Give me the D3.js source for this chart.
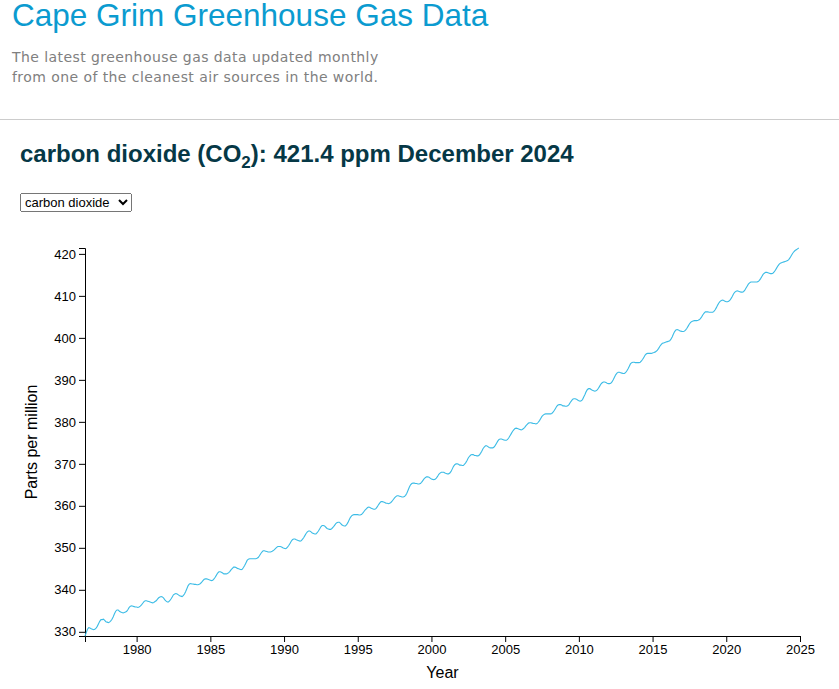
<!DOCTYPE html>
<html>
<head>
<meta charset="utf-8">
<script src="https://cdn.jsdelivr.net/npm/d3@7"></script>
<style>
  body { margin: 0; background: #fff; font-family: "Liberation Sans", Arial, sans-serif; overflow: hidden; }
  #page { position: relative; width: 839px; height: 689px; }
  h1 { position: absolute; left: 12px; top: 0; margin: 0; font-weight: normal; font-size: 31.5px; line-height: 30px; color: #0b9bd0; white-space: nowrap; }
  .intro { position: absolute; left: 12px; top: 48px; margin: 0; font-family: "DejaVu Sans", Verdana, sans-serif; font-size: 14px; line-height: 19.5px; color: #808080; letter-spacing: 0.43px; }
  hr { position: absolute; left: 0; top: 119px; width: 839px; margin: 0; border: 0; border-top: 1px solid #cccccc; }
  h2 { position: absolute; left: 20px; top: 139.7px; margin: 0; font-size: 24px; line-height: 28px; font-weight: bold; color: #063846; white-space: nowrap; }
  h2 sub { font-size: 17px; line-height: 0; }
  select { position: absolute; left: 20px; top: 193px; width: 112px; height: 19px; font-size: 13px; font-family: "Liberation Sans", Arial, sans-serif; padding: 0; }
  svg { position: absolute; left: 0; top: 0; }
</style>
</head>
<body>
<div id="page">
  <h1>Cape Grim Greenhouse Gas Data</h1>
  <p class="intro">The latest greenhouse gas data updated monthly<br>from one of the cleanest air sources in the world.</p>
  <hr>
  <h2 id="heading"></h2>
  <select id="gas"></select>
  <div id="chart"></div>
</div>
<script>
// gases offered in the drop-down
const gases = ["carbon dioxide", "methane", "nitrous oxide"];

// monthly CO2 (ppm) at Cape Grim, one row per year, series starts July 1976
const startYear = 1976;
const startMonth = 7;
const co2 = [
  329.0, 329.8, 330.6, 331.0, 330.9, 330.7,                                  // 1976 (Jul-Dec)
  330.6, 330.5, 330.6, 330.9, 331.3, 331.9, 332.5, 332.9, 332.9, 333.0, 332.7, 332.4, // 1977
  332.3, 332.2, 332.3, 332.6, 333.0, 333.6, 334.3, 334.9, 335.2, 335.2, 334.9, 334.7, // 1978
  334.6, 334.5, 334.6, 334.7, 334.9, 335.3, 335.8, 336.1, 336.2, 336.1, 336.0, 335.9, // 1979
  335.9, 335.8, 335.9, 336.1, 336.4, 336.8, 337.2, 337.4, 337.4, 337.3, 337.2, 337.1, // 1980
  337.0, 336.9, 337.0, 337.2, 337.4, 337.8, 338.1, 338.3, 338.4, 338.3, 338.0, 337.6, // 1981
  337.3, 337.1, 337.1, 337.4, 337.8, 338.3, 338.8, 339.0, 339.1, 339.0, 338.8, 338.6, // 1982
  338.5, 338.4, 338.6, 339.0, 339.6, 340.3, 341.0, 341.4, 341.5, 341.4, 341.4, 341.3, // 1983
  341.3, 341.2, 341.2, 341.3, 341.5, 341.8, 342.2, 342.5, 342.6, 342.6, 342.5, 342.4, // 1984
  342.3, 342.2, 342.3, 342.6, 343.0, 343.5, 344.0, 344.3, 344.3, 344.2, 344.0, 343.8, // 1985
  343.8, 343.8, 343.9, 344.1, 344.4, 344.8, 345.1, 345.4, 345.4, 345.3, 345.1, 345.0, // 1986
  344.9, 344.8, 344.9, 345.3, 345.8, 346.4, 347.0, 347.3, 347.4, 347.4, 347.4, 347.4, // 1987
  347.4, 347.4, 347.5, 347.7, 348.1, 348.6, 349.0, 349.3, 349.3, 349.2, 349.1, 349.0, // 1988
  349.0, 349.0, 349.1, 349.3, 349.5, 349.8, 350.1, 350.3, 350.3, 350.3, 350.2, 350.0, // 1989
  349.9, 349.8, 349.9, 350.2, 350.6, 351.1, 351.6, 352.0, 352.1, 352.1, 351.9, 351.8, // 1990
  351.7, 351.6, 351.7, 352.0, 352.4, 352.9, 353.4, 353.8, 354.0, 354.0, 353.8, 353.5, // 1991
  353.4, 353.3, 353.3, 353.6, 354.0, 354.5, 355.0, 355.3, 355.3, 355.2, 354.9, 354.6, // 1992
  354.5, 354.4, 354.4, 354.6, 354.9, 355.3, 355.7, 356.0, 356.1, 356.1, 355.8, 355.5, // 1993
  355.3, 355.2, 355.2, 355.5, 356.0, 356.6, 357.2, 357.6, 357.8, 357.9, 357.9, 357.9, // 1994
  357.9, 357.8, 357.8, 357.9, 358.2, 358.6, 359.0, 359.3, 359.6, 359.7, 359.6, 359.4, // 1995
  359.3, 359.2, 359.2, 359.4, 359.8, 360.3, 360.7, 361.0, 361.0, 360.9, 360.8, 360.6, // 1996
  360.6, 360.5, 360.6, 360.8, 361.1, 361.5, 361.9, 362.2, 362.4, 362.4, 362.3, 362.2, // 1997
  362.1, 362.1, 362.2, 362.5, 363.0, 363.7, 364.4, 365.0, 365.3, 365.4, 365.4, 365.3, // 1998
  365.3, 365.2, 365.2, 365.3, 365.6, 366.0, 366.4, 366.7, 366.9, 366.9, 366.8, 366.6, // 1999
  366.4, 366.3, 366.2, 366.3, 366.6, 367.0, 367.5, 367.8, 368.0, 368.0, 368.0, 367.8, // 2000
  367.7, 367.6, 367.6, 367.8, 368.2, 368.8, 369.4, 369.8, 370.0, 370.0, 369.9, 369.7, // 2001
  369.7, 369.6, 369.6, 369.9, 370.3, 370.8, 371.4, 371.8, 372.1, 372.2, 372.2, 372.0, // 2002
  372.0, 371.9, 371.9, 372.1, 372.5, 373.0, 373.6, 374.0, 374.3, 374.3, 374.1, 373.9, // 2003
  373.8, 373.8, 373.8, 374.0, 374.4, 374.9, 375.4, 375.8, 375.9, 375.9, 375.8, 375.7, // 2004
  375.6, 375.6, 375.8, 376.2, 376.7, 377.2, 377.7, 378.1, 378.4, 378.5, 378.4, 378.3, // 2005
  378.2, 378.1, 378.2, 378.4, 378.7, 379.1, 379.4, 379.7, 379.8, 379.8, 379.7, 379.6, // 2006
  379.6, 379.5, 379.6, 379.9, 380.3, 380.8, 381.3, 381.6, 381.8, 381.9, 381.9, 381.9, // 2007
  381.9, 381.9, 382.0, 382.3, 382.7, 383.2, 383.7, 384.0, 384.1, 384.1, 384.0, 383.8, // 2008
  383.8, 383.7, 383.7, 383.8, 384.1, 384.6, 385.0, 385.4, 385.5, 385.5, 385.4, 385.2, // 2009
  385.0, 384.9, 385.0, 385.3, 385.9, 386.5, 387.2, 387.7, 387.9, 387.9, 387.7, 387.5, // 2010
  387.4, 387.3, 387.4, 387.6, 388.0, 388.5, 389.0, 389.3, 389.5, 389.5, 389.4, 389.2, // 2011
  389.1, 389.1, 389.2, 389.5, 390.0, 390.6, 391.2, 391.6, 391.8, 391.8, 391.7, 391.6, // 2012
  391.5, 391.5, 391.7, 392.1, 392.6, 393.2, 393.8, 394.1, 394.2, 394.2, 394.1, 394.1, // 2013
  394.1, 394.1, 394.2, 394.5, 394.9, 395.4, 395.9, 396.2, 396.3, 396.3, 396.3, 396.3, // 2014
  396.4, 396.5, 396.6, 396.8, 397.1, 397.5, 398.0, 398.4, 398.7, 398.8, 398.9, 399.0, // 2015
  399.1, 399.2, 399.3, 399.7, 400.2, 400.9, 401.5, 401.9, 402.0, 401.9, 401.7, 401.6, // 2016
  401.5, 401.5, 401.6, 401.9, 402.3, 402.8, 403.3, 403.7, 403.9, 404.0, 404.1, 404.1, // 2017
  404.1, 404.2, 404.3, 404.6, 405.0, 405.5, 405.9, 406.2, 406.2, 406.2, 406.1, 406.1, // 2018
  406.1, 406.1, 406.3, 406.7, 407.2, 407.8, 408.3, 408.7, 408.9, 409.0, 408.9, 408.7, // 2019
  408.6, 408.6, 408.7, 409.0, 409.4, 409.9, 410.5, 410.9, 411.1, 411.2, 411.1, 411.0, // 2020
  410.9, 410.9, 411.0, 411.3, 411.8, 412.3, 412.8, 413.1, 413.3, 413.3, 413.3, 413.3, // 2021
  413.3, 413.3, 413.4, 413.7, 414.1, 414.6, 415.1, 415.4, 415.6, 415.6, 415.5, 415.4, // 2022
  415.3, 415.3, 415.4, 415.7, 416.1, 416.6, 417.1, 417.5, 417.8, 417.9, 418.0, 418.1, // 2023
  418.2, 418.3, 418.4, 418.7, 419.1, 419.6, 420.1, 420.5, 420.8, 421.0, 421.2, 421.4  // 2024
];

const yTicks = [330, 340, 350, 360, 370, 380, 390, 400, 410, 420];
const xEnd = new Date(2025, 0, 1);

const data = co2.map((v, i) => ({
  date: new Date(startYear, startMonth - 1 + i, 1),
  value: v
}));
const latest = data[data.length - 1];

d3.select("#gas").selectAll("option")
  .data(gases)
  .enter()
  .append("option")
  .text(d => d);

d3.select("#heading")
  .html(`carbon dioxide (CO<sub>2</sub>): ${latest.value.toFixed(1)} ppm ${d3.timeFormat("%B %Y")(latest.date)}`);

const margin = { top: 248, right: 39, bottom: 53, left: 85 };
const width = 839;
const height = 689;

const svg = d3.select("#chart")
  .append("svg")
  .attr("width", width)
  .attr("height", height);

const x = d3.scaleTime()
  .domain([data[0].date, xEnd])
  .range([margin.left, width - margin.right]);

const y = d3.scaleLinear()
  .domain(d3.extent(data, d => d.value))
  .range([height - margin.bottom, margin.top]);

svg.append("g")
  .attr("transform", `translate(0, ${height - margin.bottom})`)
  .call(d3.axisBottom(x).ticks(d3.timeYear.every(5)).tickFormat(d3.timeFormat("%Y")));

svg.append("g")
  .attr("transform", `translate(${margin.left}, 0)`)
  .call(d3.axisLeft(y).tickValues(yTicks));

svg.selectAll(".tick text")
  .attr("font-size", 13)
  .attr("font-family", "Liberation Sans, Arial, sans-serif")
  .attr("fill", "#000");

svg.selectAll(".domain, .tick line")
  .attr("stroke", "#000");

svg.append("path")
  .datum(data)
  .attr("fill", "none")
  .attr("stroke", "#3cbce6")
  .attr("stroke-width", 1.1)
  .attr("d", d3.line().x(d => x(d.date)).y(d => y(d.value)));

// axis titles
svg.append("text")
  .attr("x", (margin.left + width - margin.right) / 2)
  .attr("y", 678)
  .attr("text-anchor", "middle")
  .attr("font-size", 16)
  .attr("font-family", "Liberation Sans, Arial, sans-serif")
  .text("Year");

svg.append("text")
  .attr("transform", `translate(37, ${(height - margin.bottom + margin.top) / 2}) rotate(-90)`)
  .attr("text-anchor", "middle")
  .attr("font-size", 16)
  .attr("font-family", "Liberation Sans, Arial, sans-serif")
  .text("Parts per million");
</script>
</body>
</html>
